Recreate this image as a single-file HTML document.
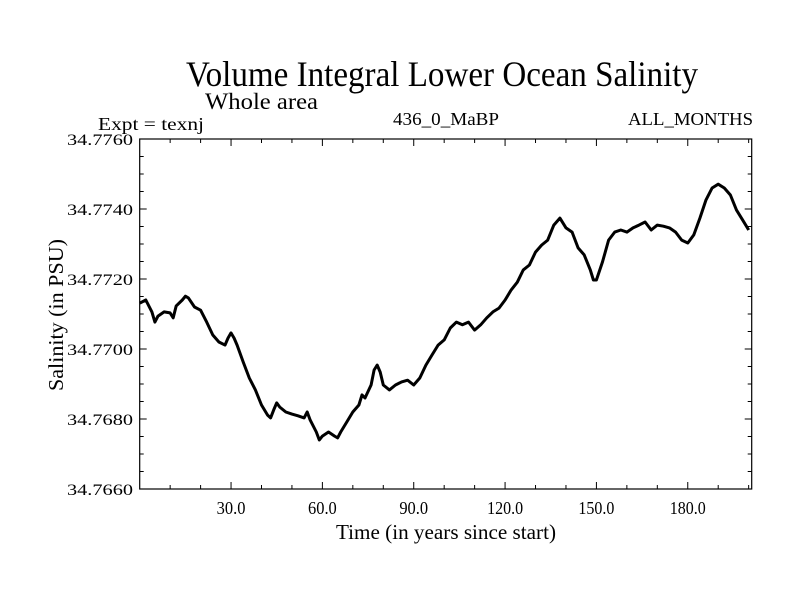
<!DOCTYPE html>
<html><head><meta charset="utf-8"><style>
body{margin:0;background:#fff}
svg{display:block;font-family:"Liberation Serif",serif}
</style></head><body>
<svg id="chart" width="800" height="600" viewBox="0 0 800 600">
<rect width="800" height="600" fill="#fff"/>
<text x="186" y="86" font-size="36" textLength="512" lengthAdjust="spacingAndGlyphs">Volume Integral Lower Ocean Salinity</text>
<text x="205" y="109" font-size="23" textLength="113" lengthAdjust="spacingAndGlyphs">Whole area</text>
<text x="98" y="130" font-size="18" textLength="106" lengthAdjust="spacingAndGlyphs">Expt = texnj</text>
<text x="393" y="125" font-size="18" textLength="106" lengthAdjust="spacingAndGlyphs">436_0_MaBP</text>
<text x="628" y="125" font-size="18" textLength="125" lengthAdjust="spacingAndGlyphs">ALL_MONTHS</text>
<text x="336" y="539" font-size="21" textLength="220" lengthAdjust="spacingAndGlyphs">Time (in years since start)</text>
<text transform="translate(63,391) rotate(-90)" font-size="21" textLength="152" lengthAdjust="spacingAndGlyphs">Salinity (in PSU)</text>
<g id="axes"></g>
<g id="series"></g>
</svg>
<script>
const years=[0,2,4,5,6,8,10,11,12,14,15,16,18,20,22,24,26,28,29,30,31,32,34,36,38,40,42,43,44,45,46,48,50,52,54,55,56,58,59,60,62,64,65,66,68,70,72,73,74,76,77,78,79,80,82,84,86,88,90,92,94,96,98,100,102,104,106,108,110,112,114,116,118,120,122,124,126,128,130,132,134,136,138,140,142,144,146,148,149,150,152,154,156,158,160,162,164,166,168,170,172,174,176,178,180,182,184,186,188,190,192,194,196,198,200];
const salinity=[34.77131,34.77140,34.77106,34.77077,34.77094,34.77106,34.77103,34.77089,34.77123,34.77140,34.77151,34.77146,34.77120,34.77111,34.77077,34.77040,34.77020,34.77011,34.77031,34.77046,34.77031,34.77011,34.76963,34.76917,34.76883,34.76840,34.76811,34.76803,34.76826,34.76846,34.76834,34.76820,34.76814,34.76809,34.76803,34.76820,34.76797,34.76763,34.76740,34.76751,34.76763,34.76751,34.76746,34.76763,34.76791,34.76820,34.76840,34.76869,34.76860,34.76897,34.76940,34.76954,34.76934,34.76897,34.76883,34.76897,34.76906,34.76911,34.76897,34.76917,34.76954,34.76983,34.77011,34.77026,34.77060,34.77077,34.77069,34.77077,34.77054,34.77069,34.77089,34.77106,34.77117,34.77140,34.77169,34.77191,34.77226,34.77240,34.77277,34.77297,34.77311,34.77354,34.77374,34.77346,34.77334,34.77289,34.77269,34.77226,34.77197,34.77197,34.77249,34.77311,34.77334,34.77340,34.77334,34.77346,34.77354,34.77363,34.77340,34.77354,34.77351,34.77346,34.77334,34.77311,34.77303,34.77326,34.77374,34.77426,34.77460,34.77471,34.77460,34.77440,34.77397,34.77369,34.77340];
const xTicks=[30,60,90,120,150,180];
const xTickLabels=["30.0","60.0","90.0","120.0","150.0","180.0"];
const yTicks=[34.766,34.768,34.770,34.772,34.774,34.776];
const yTickLabels=["34.7660","34.7680","34.7700","34.7720","34.7740","34.7760"];
const L=139.7,R=751.7,T=139,B=489,X0=0,X1=201,Y0=34.766,Y1=34.776;
const sx=v=>L+(v-X0)/(X1-X0)*(R-L);
const sy=v=>B-(v-Y0)/(Y1-Y0)*(B-T);
const NS="http://www.w3.org/2000/svg";
const ax=document.getElementById('axes');
function mk(tag,attrs,parent){const e=document.createElementNS(NS,tag);for(const k in attrs)e.setAttribute(k,attrs[k]);parent.appendChild(e);return e;}
const frame=mk('rect',{x:L,y:T,width:R-L,height:B-T,fill:'none',stroke:'#000','stroke-width':1.2},ax);


for(let t=10;t<X1;t+=10){
  const major=t%30===0, len=major?7:4, x=sx(t);
  const a=mk('line',{x1:x,x2:x,y1:B,y2:B-len,stroke:'#000'},ax);
  
  
  const b=mk('line',{x1:x,x2:x,y1:T,y2:T+len,stroke:'#000'},ax);
  
  
}
for(let i=1;i<20;i++){
  const v=Y0+i*0.0005, major=i%4===0, len=major?7:4, y=sy(v);
  const a=mk('line',{x1:L,x2:L+len,y1:y,y2:y,stroke:'#000'},ax);
  
  
  const b=mk('line',{x1:R,x2:R-len,y1:y,y2:y,stroke:'#000'},ax);
  
  
}
xTicks.forEach((t,i)=>{
  const e=mk('text',{x:sx(t),y:514,'font-size':18,'text-anchor':'middle',textLength:xTickLabels[i].length*7.2,lengthAdjust:'spacingAndGlyphs'},ax);
  e.textContent=xTickLabels[i];
  
  
});
yTicks.forEach((v,i)=>{
  const e=mk('text',{x:133,y:sy(v)+6,'font-size':16,'text-anchor':'end',textLength:66,lengthAdjust:'spacingAndGlyphs'},ax);
  e.textContent=yTickLabels[i];
  
  
});
const d=years.map((t,i)=>(i?'L':'M')+sx(t).toFixed(1)+','+sy(salinity[i]).toFixed(1)).join('');
const p=mk('path',{d:d,fill:'none',stroke:'#000','stroke-width':3,'stroke-linejoin':'round'},document.getElementById('series'));


</script>
</body></html>
